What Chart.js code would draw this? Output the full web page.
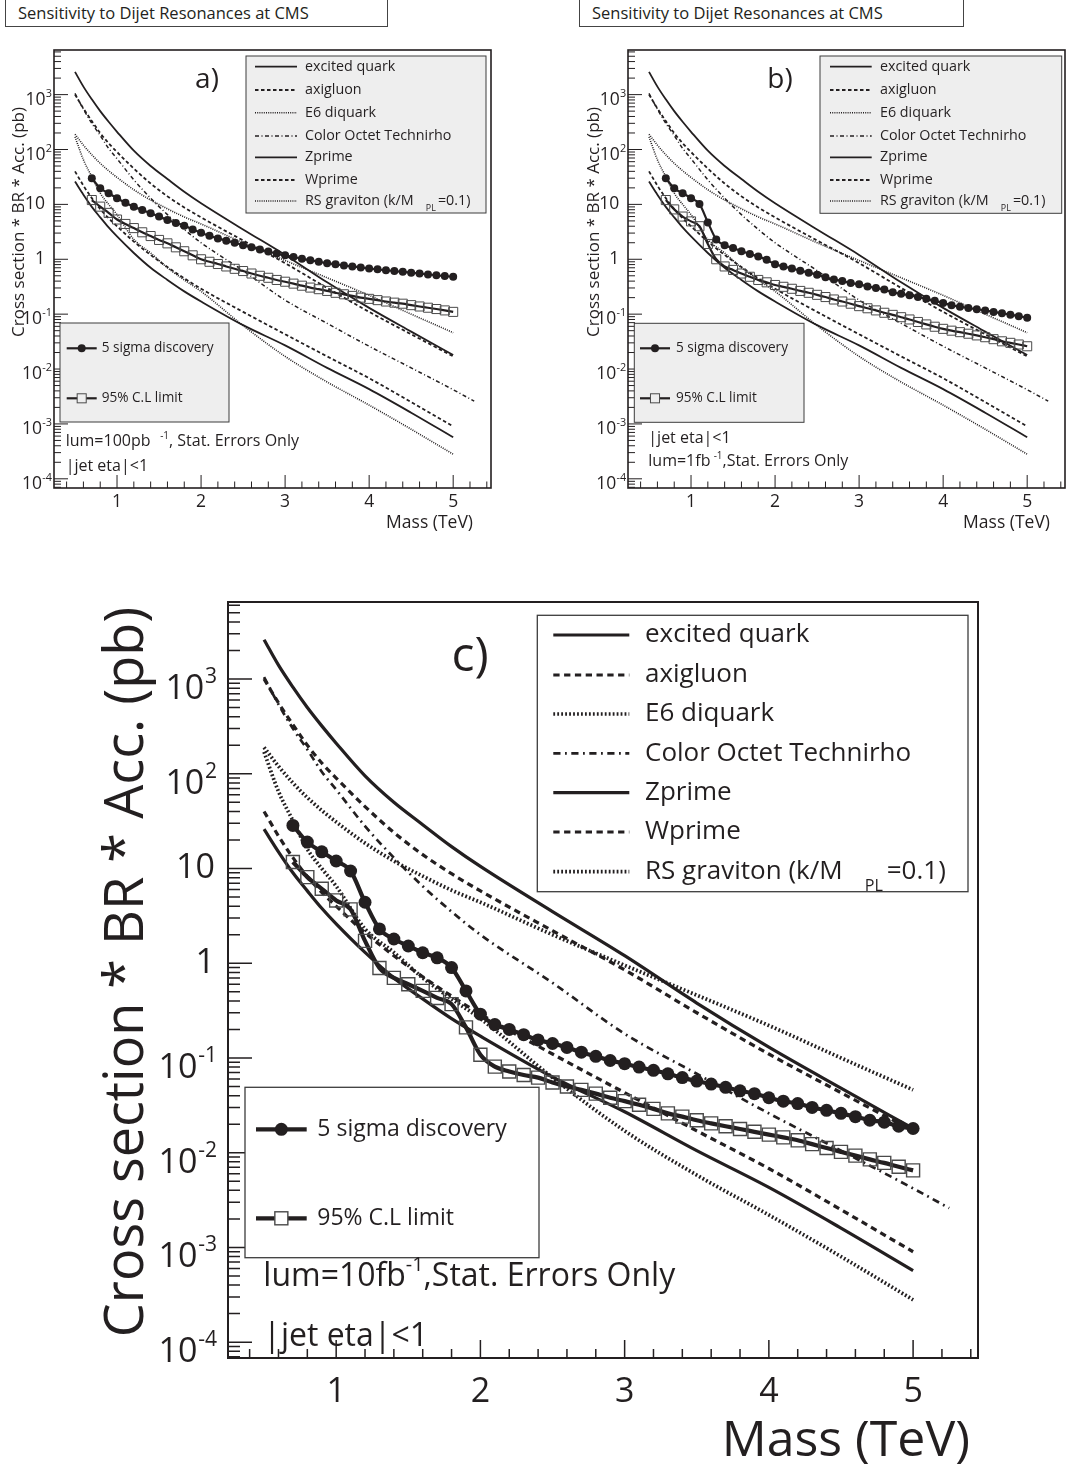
<!DOCTYPE html>
<html>
<head>
<meta charset="utf-8">
<title>Sensitivity to Dijet Resonances at CMS</title>
<script src="https://cdn.jsdelivr.net/npm/chart.js@4.4.1/dist/chart.umd.min.js"></script>
<style>
  html, body { margin: 0; padding: 0; background: #fff; }
  body { position: relative; width: 1078px; height: 1470px; overflow: hidden;
         font-family: "Open Sans", "Noto Sans", sans-serif; color: #231f20; }
  canvas { position: absolute; }
  .title-box { position: absolute; top: -1px; height: 28px; box-sizing: border-box;
               border: 1px solid #444; font-size: 16.5px; line-height: 26px;
               padding-left: 12px; white-space: nowrap; }
</style>
</head>
<body>
<div class="title-box" style="left:5px; width:383px;">Sensitivity to Dijet Resonances at CMS</div>
<div class="title-box" style="left:579px; width:385px;">Sensitivity to Dijet Resonances at CMS</div>
<canvas id="panelA" width="540" height="540" style="left:0; top:0;"></canvas>
<canvas id="panelB" width="538" height="540" style="left:540px; top:0;"></canvas>
<canvas id="panelC" width="1078" height="910" style="left:0; top:560px;"></canvas>
<script>
// ---- theory curves: cross section * BR * acceptance (pb) vs resonance mass (TeV)
const massTheory = [0.5, 0.6, 0.7, 0.8, 0.9, 1.0, 1.2, 1.4, 1.6, 1.8, 2.0, 2.5, 3.0, 3.5, 4.0, 4.5, 5.0];
const massTechnirho = [0.5, 0.6, 0.7, 0.8, 0.9, 1.0, 1.2, 1.4, 1.6, 1.8, 2.0, 2.5, 3.0, 3.5, 4.0, 4.5, 5.0, 5.25];

const excitedQuark = [2600, 1400, 820, 500, 320, 210, 95, 50, 29, 17, 10.5, 3.5, 1.2, 0.38, 0.13, 0.048, 0.018];
const axigluon     = [1000, 560, 330, 200, 130, 90, 45, 24, 14, 8.8, 5.8, 2.2, 0.85, 0.3, 0.11, 0.043, 0.017];
const e6Diquark    = [190, 120, 80, 56, 41, 31, 18.5, 12, 8.3, 5.9, 4.4, 2.0, 0.95, 0.46, 0.22, 0.1, 0.046];
const technirho    = [1050, 540, 300, 180, 105, 68, 28, 13, 6.5, 3.5, 2.0, 0.62, 0.18, 0.068, 0.026, 0.0105, 0.0042, 0.0026];
const zprime       = [26, 15, 9, 5.8, 3.8, 2.6, 1.3, 0.7, 0.42, 0.26, 0.17, 0.063, 0.027, 0.0105, 0.0043, 0.0016, 0.00057];
const wprime       = [40, 22, 13, 8.2, 5.6, 4.0, 2.1, 1.2, 0.72, 0.45, 0.29, 0.11, 0.043, 0.017, 0.0068, 0.0025, 0.0009];
const rsGraviton   = [170, 65, 32, 16, 10, 6.5, 2.3, 1.3, 0.7, 0.42, 0.26, 0.062, 0.017, 0.0058, 0.0022, 0.0008, 0.00028];

// ---- 5 sigma discovery and 95% CL limit scans, 0.7 to 5.0 TeV in 0.1 TeV steps
const massScan = [0.7, 0.8, 0.9, 1.0, 1.1, 1.2, 1.3, 1.4, 1.5, 1.6, 1.7, 1.8, 1.9,
  2.0, 2.1, 2.2, 2.3, 2.4, 2.5, 2.6, 2.7, 2.8, 2.9, 3.0, 3.1, 3.2, 3.3, 3.4, 3.5, 3.6,
  3.7, 3.8, 3.9, 4.0, 4.1, 4.2, 4.3, 4.4, 4.5, 4.6, 4.7, 4.8, 4.9, 5.0];

const discovery100pb = [30, 19.7, 16, 12.9, 10.7, 9.1, 7.9, 6.9, 6.0, 5.2, 4.6, 4.1, 3.5,
  3.05, 2.68, 2.4, 2.18, 2.0, 1.81, 1.65, 1.5, 1.38, 1.27, 1.18, 1.1, 1.02, 0.96, 0.9, 0.85,
  0.81, 0.77, 0.74, 0.71, 0.68, 0.655, 0.63, 0.61, 0.59, 0.57, 0.55, 0.53, 0.51, 0.495, 0.48];
const limit100pb = [12, 9.1, 7.0, 5.3, 4.4, 3.7, 3.1, 2.65, 2.25, 1.95, 1.65, 1.4, 1.18,
  1.0, 0.9, 0.82, 0.74, 0.67, 0.61, 0.55, 0.5, 0.46, 0.42, 0.39, 0.36, 0.33, 0.305, 0.285, 0.265,
  0.245, 0.23, 0.215, 0.2, 0.19, 0.18, 0.17, 0.162, 0.155, 0.146, 0.138, 0.131, 0.124, 0.117, 0.11];

const discovery1fb = [30, 19.6, 16, 13, 10.2, 4.7, 2.3, 1.8, 1.6, 1.4, 1.25, 1.12, 0.98,
  0.81, 0.74, 0.68, 0.62, 0.57, 0.52, 0.47, 0.43, 0.40, 0.37, 0.35, 0.32, 0.30, 0.28, 0.25, 0.235,
  0.22, 0.205, 0.19, 0.175, 0.16, 0.145, 0.137, 0.13, 0.123, 0.117, 0.11, 0.104, 0.098, 0.092, 0.086];
const limit1fb = [12, 8.1, 6.0, 4.9, 4.0, 1.9, 1.0, 0.74, 0.64, 0.55, 0.48, 0.42, 0.38,
  0.34, 0.315, 0.29, 0.265, 0.245, 0.225, 0.205, 0.185, 0.17, 0.155, 0.14, 0.128, 0.117, 0.106, 0.097, 0.088,
  0.08, 0.072, 0.065, 0.059, 0.054, 0.05, 0.047, 0.044, 0.041, 0.038, 0.035, 0.032, 0.030, 0.028, 0.026];

const discovery10fb = [28.5, 19, 15, 12, 9.4, 4.4, 2.3, 1.8, 1.52, 1.29, 1.14, 0.9, 0.51,
  0.29, 0.225, 0.2, 0.176, 0.155, 0.142, 0.129, 0.115, 0.104, 0.094, 0.087, 0.080, 0.074, 0.068, 0.062, 0.057,
  0.053, 0.049, 0.045, 0.042, 0.038, 0.035, 0.033, 0.030, 0.028, 0.026, 0.024, 0.022, 0.021, 0.019, 0.018];
const limit10fb = [11.7, 8.1, 6.1, 4.6, 3.7, 1.72, 0.89, 0.70, 0.60, 0.51, 0.43, 0.37, 0.21,
  0.108, 0.081, 0.072, 0.066, 0.062, 0.055, 0.050, 0.046, 0.042, 0.038, 0.035, 0.032, 0.029, 0.026, 0.024, 0.022,
  0.0204, 0.019, 0.0178, 0.0166, 0.0155, 0.0145, 0.0135, 0.0123, 0.0112, 0.0102, 0.0093, 0.0085, 0.0078, 0.0071, 0.0065];

// ---- axis labels
const xTickValues = [1, 2, 3, 4, 5];
const yTickValues = [1e-4, 1e-3, 1e-2, 1e-1, 1, 10, 1e2, 1e3];
const yTickText = ['10^{-4}', '10^{-3}', '10^{-2}', '10^{-1}', '1', '10', '10^{2}', '10^{3}'];

const modelNames = ['excited quark', 'axigluon', 'E6 diquark', 'Color Octet Technirho',
  'Zprime', 'Wprime', 'RS graviton (k/M_{PL}=0.1)'];
const scanNames = ['5 sigma discovery', '95% C.L limit'];

// line styles per model (unit panel size, scaled for the big panel)
const modelDash = [[], [3.5, 2.5], [1, 1.2], [4, 2.5, 1, 2.5], [], [3.5, 2.5], [1, 1.2]];
const modelWidth = [1.8, 1.8, 1.6, 1.5, 1.8, 1.8, 1.6];
const dotted = [false, false, true, false, false, false, true];

const ink = '#231f20';
const FACE = '"Open Sans", "Noto Sans", sans-serif';
const fnt = px => px + 'px ' + FACE;

const pts = (xs, ys) => xs.map((x, i) => ({ x, y: ys[i] }));

// minimal TLatex-like text: plain text with _{sub} and ^{sup}
function latex(ctx, str, x, y, f, align, supGap = 0.05, subGap = 0.85) {
  const parts = [];
  let afterSub = false;
  str.split(/(_\{[^}]*\}|\^\{[^}]*\})/).forEach(s => {
    if (!s) return;
    if (s[0] === '_') {
      parts.push({ t: s.slice(2, -1), f: f * 0.62, dy: f * 0.55, dx: subGap * f });
      afterSub = true;
    } else if (s[0] === '^') {
      parts.push({ t: s.slice(2, -1), f: f * 0.62, dy: -f * 0.36, dx: supGap * f });
    } else {
      parts.push({ t: s, f, dy: 0, dx: afterSub ? 0.15 * f : 0 });
      afterSub = false;
    }
  });
  let w = 0;
  parts.forEach(p => { ctx.font = fnt(p.f); w += p.dx + ctx.measureText(p.t).width; });
  let cx = align === 'right' ? x - w : align === 'center' ? x - w / 2 : x;
  ctx.textAlign = 'left';
  ctx.textBaseline = 'middle';
  parts.forEach(p => {
    ctx.font = fnt(p.f);
    cx += p.dx;
    ctx.fillText(p.t, cx, y + p.dy);
    cx += ctx.measureText(p.t).width;
  });
}

function box(ctx, b, fill, lw) {
  ctx.fillStyle = fill;
  ctx.fillRect(b[0], b[1], b[2] - b[0], b[3] - b[1]);
  ctx.strokeStyle = '#3c3c3c';
  ctx.lineWidth = lw;
  ctx.strokeRect(b[0], b[1], b[2] - b[0], b[3] - b[1]);
}

// frame, inward ticks, labels and legends drawn the ROOT way
function rootStyle(p) {
  return {
    id: 'rootStyle',
    afterDatasetsDraw(chart) {
      const { ctx, chartArea: a, scales: { x, y } } = chart;
      ctx.save();
      ctx.strokeStyle = ink;
      ctx.fillStyle = ink;

      ctx.lineWidth = p.tickW;
      ctx.beginPath();
      for (let e = -5; e <= 4; e++) {
        for (let m = 1; m <= 9; m++) {
          const v = m * Math.pow(10, e);
          if (v < y.min || v > y.max) continue;
          const py = y.getPixelForValue(v);
          ctx.moveTo(a.left, py);
          ctx.lineTo(a.left + (m === 1 ? p.yMajor : p.yMinor), py);
        }
      }
      for (let i = 1; i <= 27; i++) {
        const v = i * 0.2;
        if (v < x.min || v > x.max) continue;
        const px = x.getPixelForValue(v);
        ctx.moveTo(px, a.bottom);
        ctx.lineTo(px, a.bottom - (i % 5 === 0 ? p.xMajor : p.xMinor));
      }
      ctx.stroke();

      ctx.lineWidth = p.frameW;
      ctx.strokeRect(a.left, a.top, a.right - a.left, a.bottom - a.top);

      // tick labels
      yTickValues.forEach((v, i) => {
        const py = y.getPixelForValue(v);
        const hasExp = yTickText[i].includes('^');
        latex(ctx, yTickText[i], p.yLabRight + (hasExp ? p.yLabSupExtra : 0),
          py + (hasExp ? 0.3 * p.tickFont : 0), p.tickFont, 'right', 0.02);
      });
      ctx.font = fnt(p.tickFont);
      ctx.textAlign = 'center';
      ctx.textBaseline = 'middle';
      xTickValues.forEach(v => ctx.fillText(String(v), x.getPixelForValue(v), p.xLabY));

      // axis titles
      ctx.font = fnt(p.xTitle.font);
      ctx.textAlign = 'right';
      ctx.fillText('Mass (TeV)', p.xTitle.right, p.xTitle.y);
      ctx.save();
      ctx.translate(p.yTitle.x, p.yTitle.y);
      ctx.rotate(-Math.PI / 2);
      ctx.font = fnt(p.yTitle.font);
      ctx.textAlign = 'center';
      ctx.fillText('Cross section * BR * Acc. (pb)', 0, 0);
      ctx.restore();

      // panel tag
      ctx.font = fnt(p.tag.font);
      ctx.textAlign = 'center';
      ctx.fillText(p.tag.text, p.tag.x, p.tag.y);

      // model legend
      const L = p.legend;
      box(ctx, L.box, L.fill, L.border);
      modelNames.forEach((name, i) => {
        const ry = L.rows[i];
        ctx.strokeStyle = ink;
        ctx.lineWidth = modelWidth[i] * p.k * (dotted[i] ? p.dotScale : 1);
        ctx.setLineDash(modelDash[i].map(d => d * p.k));
        ctx.beginPath();
        ctx.moveTo(L.lineX[0], ry);
        ctx.lineTo(L.lineX[1], ry);
        ctx.stroke();
        ctx.setLineDash([]);
        ctx.fillStyle = ink;
        latex(ctx, name, L.textX, ry, L.font, 'left');
      });

      // scan legend
      const S = p.scanLegend;
      box(ctx, S.box, S.fill, S.border);
      scanNames.forEach((name, i) => {
        const ry = S.rows[i];
        const mx = (S.lineX[0] + S.lineX[1]) / 2;
        ctx.strokeStyle = ink;
        ctx.lineWidth = p.scanLine;
        ctx.beginPath();
        ctx.moveTo(S.lineX[0], ry);
        ctx.lineTo(S.lineX[1], ry);
        ctx.stroke();
        if (i === 0) {
          ctx.fillStyle = ink;
          ctx.beginPath();
          ctx.arc(mx, ry, p.discR, 0, Math.PI * 2);
          ctx.fill();
        } else {
          const h = p.rectR * Math.SQRT1_2;
          ctx.fillStyle = S.fill;
          ctx.fillRect(mx - h, ry - h, 2 * h, 2 * h);
          ctx.strokeStyle = '#4a4a4a';
          ctx.lineWidth = p.rectBorder;
          ctx.strokeRect(mx - h, ry - h, 2 * h, 2 * h);
        }
        ctx.fillStyle = ink;
        latex(ctx, name, S.textX, ry, S.font, 'left');
      });

      // run conditions
      p.notes.forEach(n => latex(ctx, n.text, n.x, n.y, n.font, 'left', n.supGap || 0));
      ctx.restore();
    }
  };
}

function makePanel(p) {
  const curves = [excitedQuark, axigluon, e6Diquark, technirho, zprime, wprime, rsGraviton];
  const theory = curves.map((ys, i) => ({
    label: modelNames[i],
    data: pts(i === 3 ? massTechnirho : massTheory, ys),
    borderColor: ink,
    borderWidth: modelWidth[i] * p.k * (dotted[i] ? p.dotScale : 1),
    borderDash: modelDash[i].map(d => d * p.k),
    pointRadius: 0,
    cubicInterpolationMode: 'monotone'
  }));
  const scans = [
    {
      label: scanNames[0],
      data: pts(massScan, p.discovery),
      borderColor: ink,
      borderWidth: p.scanLine,
      pointStyle: 'circle',
      pointRadius: p.discR,
      pointBorderWidth: 0,
      pointBackgroundColor: ink,
      cubicInterpolationMode: 'monotone'
    },
    {
      label: scanNames[1],
      data: pts(massScan, p.limit),
      borderColor: ink,
      borderWidth: p.scanLine,
      pointStyle: 'rect',
      pointRadius: p.rectR,
      pointBorderWidth: p.rectBorder,
      pointBorderColor: '#4a4a4a',
      pointBackgroundColor: 'rgba(0,0,0,0)',
      cubicInterpolationMode: 'monotone'
    }
  ];
  new Chart(document.getElementById(p.canvas), {
    type: 'line',
    data: { datasets: [...scans, ...theory] },
    options: {
      responsive: false,
      animation: false,
      devicePixelRatio: 1,
      events: [],
      layout: { padding: p.pad },
      plugins: { legend: { display: false }, tooltip: { enabled: false } },
      scales: {
        x: { type: 'linear', min: 0.25, max: 5.45, bounds: 'data', display: false },
        y: { type: 'logarithmic', min: 6.8e-5, max: 6500, bounds: 'data', display: false }
      }
    },
    plugins: [rootStyle(p)]
  });
}

const smallPanel = {
  k: 1, dotScale: 1, frameW: 1.6, tickW: 1, yMajor: 14, yMinor: 7, xMajor: 13, xMinor: 6.5,
  tickFont: 17.5, yLabSupExtra: 7, xLabY: 502,
  discR: 4, rectR: 6.4, scanLine: 2.2, rectBorder: 1
};

makePanel({
  ...smallPanel,
  canvas: 'panelA',
  pad: { left: 54, top: 50, right: 49, bottom: 52 },
  yLabRight: 45,
  xTitle: { font: 17.5, right: 473, y: 523 },
  yTitle: { font: 17, x: 19.5, y: 222 },
  tag: { text: 'a)', font: 28, x: 207, y: 80 },
  legend: { box: [246, 56, 486, 213], fill: '#eeeeee', border: 1,
            rows: [66.7, 90, 112.7, 136, 157.3, 180, 201], lineX: [255, 297], textX: 305, font: 14.3 },
  scanLegend: { box: [60, 323, 229, 422], fill: '#eeeeee', border: 1,
                rows: [348.3, 398.3], lineX: [66.7, 96.7], textX: 101.7, font: 13.6 },
  notes: [
    { text: 'lum=100pb^{-1}, Stat. Errors Only', x: 65.7, y: 441.7, font: 16, supGap: 0.6 },
    { text: '|jet eta|<1', x: 65.7, y: 466, font: 16 }
  ],
  discovery: discovery100pb,
  limit: limit100pb
});

makePanel({
  ...smallPanel,
  canvas: 'panelB',
  pad: { left: 88, top: 50, right: 13, bottom: 52 },
  yLabRight: 79.3,
  xTitle: { font: 17.5, right: 510, y: 523 },
  yTitle: { font: 17, x: 54, y: 222 },
  tag: { text: 'b)', font: 28, x: 240, y: 80 },
  legend: { box: [280, 56, 521.7, 213.3], fill: '#eeeeee', border: 1,
            rows: [66.7, 90, 112.7, 136, 157.3, 180, 201], lineX: [290, 331.7], textX: 340, font: 14.3 },
  scanLegend: { box: [94.3, 323.3, 264, 422.3], fill: '#eeeeee', border: 1,
                rows: [348.3, 398.3], lineX: [100, 130], textX: 136, font: 13.6 },
  notes: [
    { text: '|jet eta|<1', x: 108.3, y: 438.3, font: 16 },
    { text: 'lum=1fb^{-1},Stat. Errors Only', x: 108.3, y: 461.7, font: 16, supGap: 0.2 }
  ],
  discovery: discovery1fb,
  limit: limit1fb
});

makePanel({
  canvas: 'panelC',
  k: 1.8, dotScale: 1.3, frameW: 2, tickW: 1.5, yMajor: 24, yMinor: 12, xMajor: 18, xMinor: 9,
  tickFont: 34, yLabRight: 215, yLabSupExtra: 2, xLabY: 832,
  discR: 6.5, rectR: 9.2, scanLine: 4.2, rectBorder: 1.4,
  pad: { left: 228, top: 42, right: 100, bottom: 112 },
  xTitle: { font: 50, right: 970, y: 882 },
  yTitle: { font: 54, x: 128, y: 412 },
  tag: { text: 'c)', font: 48, x: 470, y: 97 },
  legend: { box: [537.3, 55.3, 968, 331.7], fill: '#ffffff', border: 1.3,
            rows: [75, 115, 154, 193.3, 232.7, 272, 311.7], lineX: [553.3, 629.3], textX: 645, font: 26 },
  scanLegend: { box: [245, 527.3, 539, 697.7], fill: '#ffffff', border: 1.3,
                rows: [569.3, 658.3], lineX: [256, 306.7], textX: 317.3, font: 23 },
  notes: [
    { text: 'lum=10fb^{-1},Stat. Errors Only', x: 263.3, y: 716.7, font: 32, supGap: 0 },
    { text: '|jet eta|<1', x: 263.3, y: 777, font: 32 }
  ],
  discovery: discovery10fb,
  limit: limit10fb
});
</script>
</body>
</html>
